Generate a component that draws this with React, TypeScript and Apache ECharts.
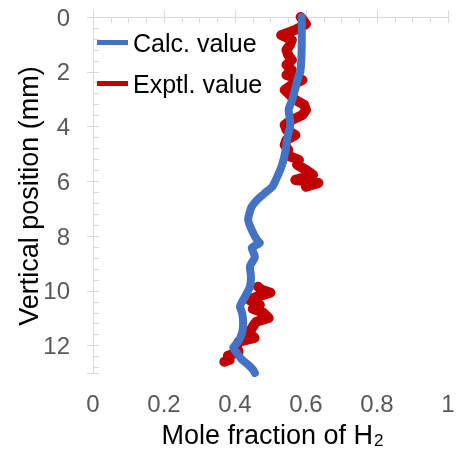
import { useEffect, useRef } from 'react';
import * as echarts from 'echarts';

// Calculated profile: depth (mm) and H2 mole fraction
const calcDepth = [0, 0.8, 1.5, 2.0, 2.2, 2.5, 3.0, 3.4, 3.6, 3.9, 4.4, 4.9, 5.3, 5.6, 5.95, 6.2, 6.42, 6.68, 6.93, 7.2, 7.4, 7.77, 8.14, 8.25, 8.43, 8.76, 9.12, 9.49, 9.85, 10.22, 10.58, 10.8, 11.17, 11.53, 11.86, 12.08, 12.26, 12.52, 12.7, 12.88, 13.0];
const calcFraction = [0.588, 0.588, 0.587, 0.584, 0.578, 0.572, 0.562, 0.551, 0.553, 0.556, 0.548, 0.542, 0.535, 0.527, 0.515, 0.505, 0.485, 0.462, 0.447, 0.44, 0.437, 0.447, 0.462, 0.47, 0.447, 0.456, 0.442, 0.445, 0.442, 0.428, 0.414, 0.42, 0.423, 0.42, 0.409, 0.395, 0.405, 0.42, 0.437, 0.451, 0.456];

// Experimental profile, upper segment
const exptDepthTop = [0, 0.26, 0.47, 0.66, 0.84, 1.02, 1.2, 1.39, 1.57, 1.75, 1.93, 2.12, 2.3, 2.48, 2.66, 2.85, 3.03, 3.21, 3.39, 3.58, 3.76, 3.94, 4.12, 4.31, 4.49, 4.67, 4.85, 5.04, 5.22, 5.4, 5.58, 5.77, 5.95, 6.06, 6.2];
const exptFractionTop = [0.585, 0.6, 0.57, 0.53, 0.56, 0.555, 0.545, 0.55, 0.56, 0.545, 0.56, 0.545, 0.59, 0.56, 0.54, 0.555, 0.57, 0.595, 0.6, 0.59, 0.56, 0.54, 0.545, 0.57, 0.545, 0.54, 0.55, 0.545, 0.58, 0.575, 0.6, 0.62, 0.57, 0.635, 0.6];

// Experimental profile, lower segment
const exptDepthBottom = [9.85, 9.96, 10.07, 10.22, 10.33, 10.51, 10.66, 10.8, 10.99, 11.13, 11.31, 11.53, 11.72, 11.86, 12.04, 12.23, 12.37, 12.52, 12.59];
const exptFractionBottom = [0.465, 0.475, 0.5, 0.46, 0.44, 0.47, 0.45, 0.48, 0.495, 0.46, 0.45, 0.44, 0.455, 0.41, 0.405, 0.41, 0.38, 0.385, 0.37];

const seriesNames = ['Calc. value', 'Exptl. value'];
const yTitle = 'Vertical position (mm)';
const xTitle = 'Mole fraction of H';
const xTitleSub = '2';

const FONT = 'Arial, "Liberation Sans", sans-serif';
const GREY = '#D9D9D9';
const LABEL = '#595959';
const BLUE = '#4472C4';
const RED = '#C00000';

const pairs = (xs: number[], ys: number[]) => xs.map((x, i) => [x, ys[i]]);

export default function App() {
  const ref = useRef<HTMLDivElement>(null);
  useEffect(() => {
    if (!ref.current) return;
    const chart = echarts.init(ref.current, undefined, { renderer: 'svg' });
    const gridRect = { left: 93, top: 17, right: 12, bottom: 77 };
    chart.setOption({
      animation: false,
      textStyle: { fontFamily: FONT },
      grid: [
        { ...gridRect, show: false },
        { ...gridRect, show: false },
      ],
      legend: {
        orient: 'vertical',
        left: 97,
        top: 30,
        padding: 0,
        itemGap: 16,
        itemWidth: 31,
        itemHeight: 5,
        icon: 'rect',
        data: seriesNames,
        textStyle: { fontSize: 25, color: '#000', fontFamily: FONT, lineHeight: 25 },
      },
      xAxis: [
        {
          gridIndex: 0, type: 'value', position: 'bottom', min: 0, max: 1, interval: 0.2,
          axisLine: { show: true, lineStyle: { color: GREY, width: 1 } },
          axisTick: { show: false },
          splitLine: { show: false },
          axisLabel: { fontSize: 24, color: LABEL, margin: 18, fontFamily: FONT },
        },
        {
          gridIndex: 0, type: 'value', position: 'top', min: 0, max: 1, interval: 0.2,
          axisLine: { show: true, lineStyle: { color: GREY, width: 1 } },
          axisTick: { show: true, inside: false, length: 7, lineStyle: { color: GREY } },
          splitLine: { show: false },
          axisLabel: { show: false },
        },
        {
          gridIndex: 1, type: 'value', position: 'top', min: 0, max: 1, interval: 0.05,
          axisLine: { show: false },
          axisTick: { show: true, inside: true, length: 6, lineStyle: { color: GREY } },
          splitLine: { show: false },
          axisLabel: { show: false },
        },
      ],
      yAxis: [
        {
          gridIndex: 0, type: 'value', position: 'left', inverse: true, min: 0, max: 13, interval: 2,
          axisLine: { show: true, lineStyle: { color: GREY, width: 1 } },
          axisTick: { show: true, inside: false, length: 6, lineStyle: { color: GREY } },
          splitLine: { show: false },
          axisLabel: {
            fontSize: 24, color: LABEL, margin: 23, fontFamily: FONT,
            formatter: (v: number) => (v % 2 === 0 ? String(v) : ''),
          },
        },
        {
          gridIndex: 0, type: 'value', position: 'right', inverse: true, min: 0, max: 13, interval: 2,
          axisLine: { show: true, lineStyle: { color: GREY, width: 1 } },
          axisTick: { show: false },
          splitLine: { show: false },
          axisLabel: { show: false },
        },
        {
          gridIndex: 1, type: 'value', position: 'left', inverse: true, min: 0, max: 13, interval: 0.4,
          axisLine: { show: false },
          axisTick: { show: true, inside: true, length: 6, lineStyle: { color: GREY } },
          splitLine: { show: false },
          axisLabel: { show: false },
        },
      ],
      graphic: [
        {
          type: 'text', x: 29, y: 196, rotation: Math.PI / 2,
          style: { text: yTitle, fill: '#000', font: `27px ${FONT}`, align: 'center', verticalAlign: 'middle' },
        },
        {
          type: 'text', x: 373, y: 435,
          style: { text: xTitle, fill: '#000', font: `27px ${FONT}`, align: 'right', verticalAlign: 'middle' },
        },
        {
          type: 'text', x: 374, y: 440,
          style: { text: xTitleSub, fill: '#000', font: `17px ${FONT}`, align: 'left', verticalAlign: 'middle' },
        },
      ],
      series: [
        {
          name: seriesNames[1], type: 'line', xAxisIndex: 0, yAxisIndex: 0,
          data: pairs(exptFractionTop, exptDepthTop),
          showSymbol: false, symbol: 'none',
          lineStyle: { color: RED, width: 10, cap: 'round', join: 'round' },
          itemStyle: { color: RED },
        },
        {
          name: seriesNames[1], type: 'line', xAxisIndex: 0, yAxisIndex: 0,
          data: pairs(exptFractionBottom, exptDepthBottom),
          showSymbol: false, symbol: 'none',
          lineStyle: { color: RED, width: 10, cap: 'round', join: 'round' },
          itemStyle: { color: RED },
        },
        {
          name: seriesNames[0], type: 'line', xAxisIndex: 0, yAxisIndex: 0,
          data: pairs(calcFraction, calcDepth),
          showSymbol: false, symbol: 'none', smooth: 0.2,
          lineStyle: { color: BLUE, width: 8, cap: 'round', join: 'round' },
          itemStyle: { color: BLUE },
        },
      ],
    });
    return () => chart.dispose();
  }, []);
  return <div ref={ref} style={{ position: 'fixed', left: 0, top: 0, width: 460, height: 450 }} />;
}
